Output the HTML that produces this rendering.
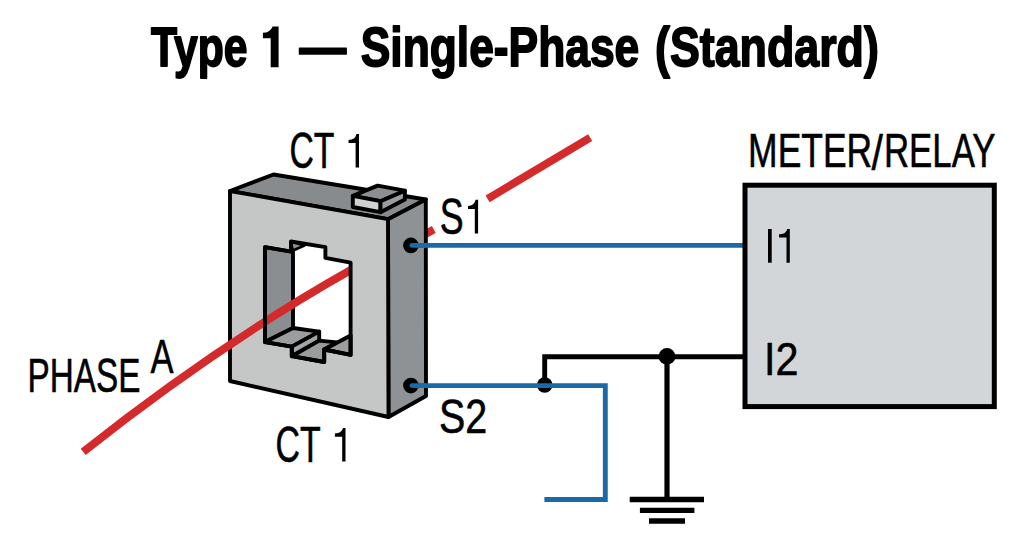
<!DOCTYPE html>
<html><head><meta charset="utf-8"><title>Type 1 — Single-Phase (Standard)</title><style>
html,body{margin:0;padding:0;background:#fff;width:1024px;height:559px;overflow:hidden;}
svg{display:block;font-family:"Liberation Sans", sans-serif;}
</style></head><body>
<svg width="1024" height="559" viewBox="0 0 1024 559">
<rect width="1024" height="559" fill="#fff"/>
<text transform="matrix(0.4271 0 0 0.5565 151.07 66.40)" font-size="100" font-weight="bold" fill="#000" stroke="#000" stroke-width="1.6" vector-effect="non-scaling-stroke" stroke-linejoin="round">Type</text>
<path d="M262.90,38.20 L270.70,38.20 L270.70,67.20 L278.60,67.20 L278.60,26.40 L272.68,26.40 Q269.91,32.80 262.90,32.80 Z" fill="#000"/>
<text transform="matrix(0.4670 0 0 0.5565 299.50 66.40)" font-size="100" font-weight="bold" fill="#000" stroke="#000" stroke-width="1.6" vector-effect="non-scaling-stroke" stroke-linejoin="round">—</text>
<text transform="matrix(0.4436 0 0 0.5565 360.77 66.40)" font-size="100" font-weight="bold" fill="#000" stroke="#000" stroke-width="1.6" vector-effect="non-scaling-stroke" stroke-linejoin="round">Single-Phase</text>
<text transform="matrix(0.4476 0 0 0.5565 655.06 66.40)" font-size="100" font-weight="bold" fill="#000" stroke="#000" stroke-width="1.6" vector-effect="non-scaling-stroke" stroke-linejoin="round">(Standard)</text>
<line x1="415" y1="239.8" x2="433.8" y2="229.5" stroke="#d42a2c" stroke-width="7.8"/>
<polygon points="230,191 273.5,174.5 425.8,199.5 388,219.2" fill="#888b8d" stroke="#000" stroke-linejoin="round" stroke-width="3.9"/>
<polygon points="388,219.2 425.8,199.5 426,396 388.5,417" fill="#8f9294" stroke="#000" stroke-linejoin="round" stroke-width="3.9"/>
<polygon points="230,191 388,219.2 388.5,417 230,381" fill="#c5c7c7" stroke="#000" stroke-linejoin="round" stroke-width="3.9"/>
<polygon points="352.8,195.9 377.6,185.6 404.9,190.7 380.5,201.2" fill="#8c8f91" stroke="#000" stroke-linejoin="round" stroke-width="3.9"/>
<polygon points="352.8,195.9 380.5,201.2 380.5,212.2 352.8,207" fill="#d0d2d2" stroke="#000" stroke-linejoin="round" stroke-width="3.9"/>
<polygon points="380.5,201.2 404.9,190.7 404.9,199.6 380.5,212.2" fill="#9a9c9d" stroke="#000" stroke-linejoin="round" stroke-width="3.9"/>
<polygon points="265,247.2 291,251.6 291,241.5 325.4,247.2 325.4,257.9 350.6,262.6 350.6,354.9 324.2,349.5 324.2,362 291.8,356.2 291.8,346.6 265,342.1" fill="#ffffff"/>
<polygon points="265,247.2 293,251.8 293,328 265,342.1" fill="#8b8e90" stroke="#000" stroke-linejoin="round" stroke-width="3.9"/>
<polygon points="291,241.5 304.4,245.4 292.5,250.8" fill="#8e9193" stroke="#000" stroke-linejoin="round" stroke-width="2.8"/>
<polygon points="265,342.1 293,328 319.2,331.6 291.8,346.6" fill="#9b9d9e" stroke="#000" stroke-linejoin="round" stroke-width="3.9"/>
<polygon points="291.8,346.6 319.2,331.6 319.2,340.6 291.8,356.2" fill="#a3a5a6" stroke="#000" stroke-linejoin="round" stroke-width="3.9"/>
<polygon points="291.8,356.2 319.2,340.6 337,342.4 324.2,349.5 324.2,362" fill="#999b9c" stroke="#000" stroke-linejoin="round" stroke-width="3.9"/>
<polygon points="324.2,349.5 350.6,335.5 350.6,354.9" fill="#9b9d9e" stroke="#000" stroke-linejoin="round" stroke-width="3.9"/>
<clipPath id="cl"><rect x="0" y="0" width="350.6" height="559"/></clipPath>
<path clip-path="url(#cl)" d="M83.2,451.8 Q221.6,342.05 360,264.9" fill="none" stroke="#d42a2c" stroke-width="8"/>
<polygon points="265,247.2 291,251.6 291,241.5 325.4,247.2 325.4,257.9 350.6,262.6 350.6,354.9 324.2,349.5 324.2,362 291.8,356.2 291.8,346.6 265,342.1" fill="none" stroke="#000" stroke-linejoin="round" stroke-width="3.9"/>
<line x1="487.6" y1="198.8" x2="590.2" y2="137.7" stroke="#d42a2c" stroke-width="7.8"/>
<line x1="410.6" y1="245.4" x2="745" y2="245.4" stroke="#1a6aa8" stroke-width="4.9"/>
<polyline points="544.7,386 544.7,356.7 745,356.7" fill="none" stroke="#000" stroke-width="4.9"/>
<line x1="667" y1="356.7" x2="667" y2="499.5" stroke="#000" stroke-width="5.2"/>
<circle cx="544.7" cy="385" r="7.8" fill="#000"/>
<circle cx="667" cy="356.4" r="8.4" fill="#000"/>
<polyline points="410.6,385.6 605.3,385.6 605.3,499.5 544.4,499.5" fill="none" stroke="#1a6aa8" stroke-width="4.9"/>
<circle cx="410.9" cy="245.4" r="7.8" fill="#000"/>
<circle cx="410.9" cy="385.6" r="7.8" fill="#000"/>
<line x1="412" y1="245.4" x2="425" y2="245.4" stroke="#1a6aa8" stroke-width="4.9" stroke-linecap="round"/>
<line x1="412" y1="385.6" x2="425" y2="385.6" stroke="#1a6aa8" stroke-width="4.9" stroke-linecap="round"/>
<line x1="629.7" y1="499.5" x2="704" y2="499.5" stroke="#000" stroke-width="5.4"/>
<line x1="639.9" y1="510.4" x2="694.4" y2="510.4" stroke="#000" stroke-width="5.4"/>
<line x1="649" y1="521" x2="685" y2="521" stroke="#000" stroke-width="5.4"/>
<rect x="745" y="185.2" width="249.3" height="221.4" fill="#d3d6d8" stroke="#000" stroke-width="5"/>
<text transform="matrix(0.3373 0 0 0.4913 289.46 167.55)" font-size="100" font-weight="normal" fill="#000" stroke="#000" stroke-width="0.5" vector-effect="non-scaling-stroke" stroke-linejoin="round">CT</text>
<path d="M348.50,142.90 L355.60,142.90 L355.60,167.60 L359.00,167.60 L359.00,134.00 L356.45,134.00 Q355.26,139.90 348.50,139.90 Z" fill="#000"/>
<text transform="matrix(0.3389 0 0 0.5014 275.46 461.75)" font-size="100" font-weight="normal" fill="#000" stroke="#000" stroke-width="0.5" vector-effect="non-scaling-stroke" stroke-linejoin="round">CT</text>
<path d="M334.90,436.80 L342.20,436.80 L342.20,461.60 L345.50,461.60 L345.50,428.00 L343.02,428.00 Q341.87,433.40 334.90,433.40 Z" fill="#000"/>
<text transform="matrix(0.3546 0 0 0.4797 748.11 167.25)" font-size="100" font-weight="normal" fill="#000" stroke="#000" stroke-width="0.5" vector-effect="non-scaling-stroke" stroke-linejoin="round">METER</text>
<text transform="matrix(0.4107 0 0 0.5055 871.55 170.45)" font-size="100" font-weight="normal" fill="#000" stroke="#000" stroke-width="0.5" vector-effect="non-scaling-stroke" stroke-linejoin="round">/</text>
<text transform="matrix(0.3484 0 0 0.4797 883.96 167.25)" font-size="100" font-weight="normal" fill="#000" stroke="#000" stroke-width="0.5" vector-effect="non-scaling-stroke" stroke-linejoin="round">RELAY</text>
<text transform="matrix(0.3579 0 0 0.4986 439.66 233.75)" font-size="100" font-weight="normal" fill="#000" stroke="#000" stroke-width="0.5" vector-effect="non-scaling-stroke" stroke-linejoin="round">S</text>
<path d="M468.00,208.90 L474.80,208.90 L474.80,233.60 L478.10,233.60 L478.10,199.80 L475.62,199.80 Q474.47,205.90 468.00,205.90 Z" fill="#000"/>
<text transform="matrix(0.3946 0 0 0.4841 438.98 432.95)" font-size="100" font-weight="normal" fill="#000" stroke="#000" stroke-width="0.5" vector-effect="non-scaling-stroke" stroke-linejoin="round">S2</text>
<rect x="768.0" y="229" width="3.7" height="33.7" fill="#000"/>
<path d="M779.10,237.60 L786.50,237.60 L786.50,262.70 L789.80,262.70 L789.80,229.00 L787.33,229.00 Q786.17,234.30 779.10,234.30 Z" fill="#000"/>
<text transform="matrix(0.4130 0 0 0.4710 764.03 374.75)" font-size="100" font-weight="normal" fill="#000" stroke="#000" stroke-width="0.5" vector-effect="non-scaling-stroke" stroke-linejoin="round">I2</text>
<text transform="matrix(0.3333 0 0 0.4797 27.58 391.55)" font-size="100" font-weight="normal" fill="#000" stroke="#000" stroke-width="0.5" vector-effect="non-scaling-stroke" stroke-linejoin="round">PHASE</text>
<text transform="matrix(0.3455 0 0 0.4783 150.55 373.25)" font-size="100" font-weight="normal" fill="#000" stroke="#000" stroke-width="0.5" vector-effect="non-scaling-stroke" stroke-linejoin="round">A</text>
</svg></body></html>
